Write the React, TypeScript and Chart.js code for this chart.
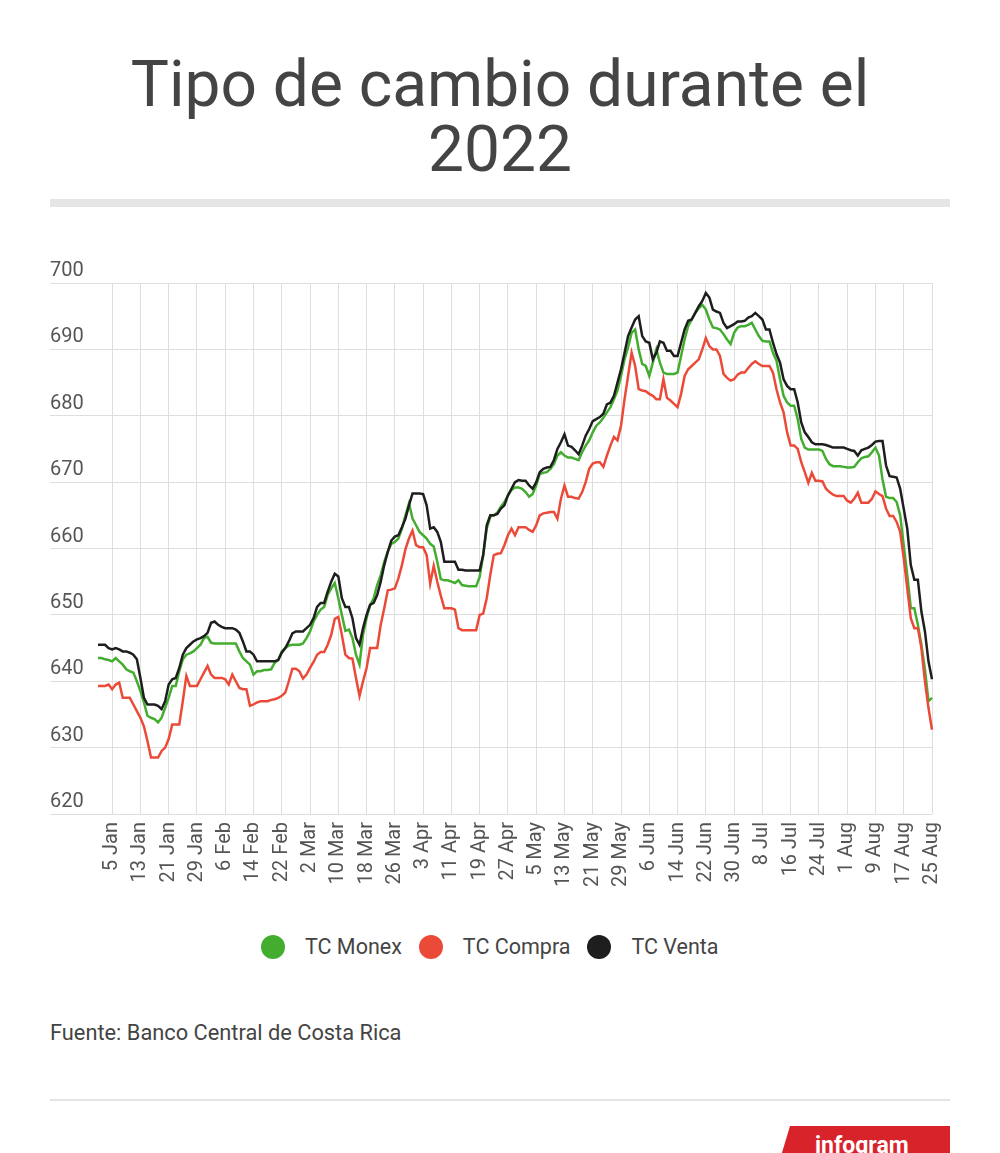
import React, { useEffect, useRef } from "react";
import { Chart, registerables } from "chart.js";

Chart.register(...registerables);

const START_DATE = "2022-01-01";
const MONTHS = ["Jan", "Feb", "Mar", "Apr", "May", "Jun", "Jul", "Aug", "Sep", "Oct", "Nov", "Dec"];

const TICK_LABELS = [
  "5 Jan", "13 Jan", "21 Jan", "29 Jan", "6 Feb", "14 Feb", "22 Feb", "2 Mar", "10 Mar", "18 Mar",
  "26 Mar", "3 Apr", "11 Apr", "19 Apr", "27 Apr", "5 May", "13 May", "21 May", "29 May", "6 Jun",
  "14 Jun", "22 Jun", "30 Jun", "8 Jul", "16 Jul", "24 Jul", "1 Aug", "9 Aug", "17 Aug", "25 Aug",
];

const Y_TICKS = [620, 630, 640, 650, 660, 670, 680, 690, 700];

// TC Monex (daily, 1 Jan – 25 Aug 2022)
const TC_MONEX = [
  643.5, 643.5, 643.3, 643.2, 643.0, 643.5, 643.0, 642.5, 641.8, 641.5,
  641.3, 640.0, 638.5, 636.8, 634.8, 634.5, 634.3, 633.8, 634.5, 636.0,
  637.5, 639.3, 639.3, 641.5, 643.3, 644.0, 644.2, 644.5, 645.0, 645.5,
  646.5, 646.7, 645.8, 645.7, 645.7, 645.7, 645.7, 645.7, 645.7, 645.7,
  644.5, 643.5, 643.0, 642.5, 641.0, 641.5, 641.5, 641.7, 641.7, 641.8,
  642.8, 643.2, 644.5, 645.0, 645.4, 645.5, 645.5, 645.5, 645.7, 646.5,
  647.5, 649.0, 650.0, 650.8, 651.2, 653.0, 654.0, 654.8, 652.5, 650.0,
  647.6, 647.8, 646.5, 644.0, 642.5, 647.0, 649.5, 651.5, 652.5, 654.5,
  656.0, 658.0, 659.5, 660.7, 661.0, 661.5, 663.0, 665.0, 666.8, 664.5,
  663.5, 662.5, 662.0, 661.5, 660.7, 660.3, 658.0, 655.4, 655.2, 655.2,
  655.0, 654.8, 655.2, 654.5, 654.4, 654.3, 654.3, 654.3, 655.7, 659.0,
  663.0, 664.8, 665.0, 665.4, 666.3, 667.0, 668.0, 668.8, 669.2, 669.2,
  669.0, 668.5, 667.8, 668.2, 669.5, 671.2, 671.4, 671.5, 672.0, 672.7,
  674.0, 674.5, 674.0, 673.7, 673.7, 673.5, 673.3, 674.5, 675.5, 676.3,
  677.5, 678.5, 679.0, 679.7, 680.5, 681.3, 682.5, 683.8, 686.0, 688.5,
  690.3, 692.5, 693.0, 690.0, 687.8, 687.5, 686.0, 688.0, 690.0, 688.0,
  686.5, 686.3, 686.3, 686.3, 686.5, 689.0, 691.5, 693.5, 694.5, 695.5,
  696.2, 696.7, 696.0, 694.5, 693.3, 693.2, 693.0, 692.3, 691.5, 690.8,
  692.5, 693.3, 693.5, 693.5, 693.7, 694.0, 693.0, 692.0, 691.3, 691.2,
  691.2, 689.5, 688.3, 685.5, 683.0, 682.0, 681.5, 681.5, 679.5, 676.5,
  675.2, 674.9, 674.9, 674.9, 674.9, 674.7, 673.5, 672.7, 672.4, 672.4,
  672.4, 672.3, 672.2, 672.2, 672.3, 673.0, 673.6, 673.8, 673.9, 674.5,
  675.2, 674.0, 670.4, 667.8, 667.6, 667.6, 667.0, 665.0, 660.5, 656.0,
  651.0, 651.0, 648.5, 645.5, 641.8, 637.0, 637.5,
];

// TC Compra
const TC_COMPRA = [
  639.3, 639.3, 639.3, 639.5, 638.8, 639.5, 639.8, 637.5, 637.5, 637.5,
  636.5, 635.5, 634.5, 633.2, 631.0, 628.5, 628.5, 628.5, 629.5, 630.0,
  631.3, 633.5, 633.5, 633.5, 637.0, 640.8, 639.3, 639.3, 639.3, 640.3,
  641.3, 642.3, 641.0, 640.5, 640.5, 640.5, 640.3, 639.5, 641.0, 640.0,
  639.0, 638.8, 638.8, 636.3, 636.5, 636.8, 637.0, 637.0, 637.0, 637.2,
  637.3, 637.5, 637.8, 638.3, 640.0, 641.9, 641.9, 641.5, 640.4, 641.0,
  642.0, 642.9, 644.0, 644.4, 644.4, 645.5, 647.0, 649.4, 649.7, 647.0,
  644.0, 643.5, 643.4, 640.5, 637.8, 640.0, 642.0, 645.0, 645.0, 645.0,
  648.5, 651.0, 653.7, 653.8, 654.0, 655.5, 657.5, 659.9, 661.5, 662.7,
  660.5, 660.2, 660.2, 659.0, 654.7, 657.4, 655.0, 652.9, 651.0, 651.0,
  651.0, 650.8, 648.0, 647.7, 647.7, 647.7, 647.7, 647.7, 650.0, 650.2,
  652.5, 656.0, 659.0, 659.2, 659.3, 660.5, 662.0, 663.0, 662.0, 663.2,
  663.2, 663.2, 662.8, 662.5, 663.5, 665.0, 665.3, 665.4, 665.5, 665.5,
  664.5, 667.5, 669.5, 667.8, 667.8, 667.6, 667.5, 668.5, 670.0, 672.0,
  672.8, 673.0, 673.0, 672.3, 674.0, 675.5, 676.8, 676.3, 678.5, 682.5,
  686.0, 689.5, 687.5, 684.0, 683.8, 683.7, 683.3, 683.0, 682.5, 682.5,
  685.5, 682.7, 682.3, 681.8, 681.3, 683.3, 686.0, 687.0, 687.5, 688.0,
  688.5, 690.0, 691.7, 690.5, 690.0, 690.0, 689.0, 686.3, 685.7, 685.3,
  685.5, 686.2, 686.5, 686.5, 687.2, 687.8, 688.2, 687.8, 687.5, 687.5,
  687.5, 686.5, 684.0, 682.0, 680.5, 677.5, 675.5, 675.5, 675.0, 673.0,
  671.5, 669.9, 671.4, 670.2, 670.2, 670.1, 669.0, 668.5, 668.1, 667.9,
  667.9, 667.9, 667.2, 666.9, 667.5, 668.4, 666.9, 666.9, 666.9, 667.5,
  668.6, 668.2, 667.9, 666.0, 664.9, 664.9, 664.0, 662.5, 658.5, 654.0,
  649.5, 648.0, 648.0, 645.0, 640.0, 636.0, 632.7,
];

// TC Venta
const TC_VENTA = [
  645.5, 645.5, 645.5, 645.0, 644.8, 645.0, 644.8, 644.5, 644.5, 644.3,
  644.0, 643.3, 640.5, 637.5, 636.5, 636.5, 636.5, 636.3, 635.8, 637.0,
  639.5, 640.3, 640.5, 642.0, 644.0, 645.0, 645.5, 646.0, 646.3, 646.5,
  646.8, 647.3, 648.8, 649.0, 648.5, 648.2, 648.0, 648.0, 648.0, 647.8,
  647.3, 646.0, 644.5, 644.5, 644.0, 643.0, 643.0, 643.0, 643.0, 643.0,
  643.0, 643.2, 644.3, 645.0, 646.0, 647.2, 647.5, 647.5, 647.5, 648.0,
  648.5, 649.5, 651.2, 651.8, 651.8, 653.5, 655.0, 656.2, 655.8, 652.5,
  651.2, 651.2, 649.5, 646.5, 645.5, 648.0, 650.0, 651.5, 651.8, 653.0,
  655.0, 657.5, 659.5, 661.2, 661.8, 662.0, 663.2, 664.5, 666.5, 668.3,
  668.3, 668.3, 668.2, 666.5, 663.0, 663.2, 662.5, 661.0, 658.0, 658.0,
  658.0, 658.0, 656.8, 656.8, 656.7, 656.7, 656.7, 656.7, 656.7, 659.0,
  663.5, 665.0, 665.0, 665.2, 666.0, 666.5, 668.0, 669.0, 670.0, 670.3,
  670.2, 670.2, 669.5, 669.0, 670.0, 671.5, 672.0, 672.2, 672.3, 673.3,
  675.0, 676.0, 677.2, 675.5, 675.3, 674.8, 674.2, 675.5, 677.0, 678.0,
  679.2, 679.5, 679.8, 680.3, 681.7, 682.0, 683.0, 685.0, 687.0, 689.5,
  692.0, 693.3, 694.5, 695.0, 692.0, 691.2, 691.0, 688.5, 689.5, 691.2,
  691.0, 689.8, 689.8, 689.0, 689.0, 691.0, 693.0, 694.3, 694.5, 695.5,
  696.5, 697.3, 698.5, 697.8, 696.0, 695.7, 695.5, 694.0, 693.2, 693.5,
  693.8, 694.2, 694.2, 694.3, 694.8, 695.0, 695.5, 695.0, 694.5, 693.0,
  693.0, 691.0, 689.3, 688.0, 685.5, 684.5, 684.0, 684.0, 682.0, 679.0,
  677.5, 676.8, 676.0, 675.7, 675.7, 675.7, 675.6, 675.4, 675.2, 675.2,
  675.2, 675.2, 675.0, 674.8, 674.7, 674.0, 674.8, 675.0, 675.2, 675.6,
  676.1, 676.2, 676.2, 672.5, 670.9, 670.8, 670.7, 669.0, 666.0, 663.0,
  657.5, 655.3, 655.3, 650.5, 647.5, 643.0, 640.3,
];

const SERIES_NAMES = ["TC Monex", "TC Compra", "TC Venta"];
const SERIES_COLORS = ["#43ad2f", "#ec4a38", "#1e1e1e"];

function buildDayLabels(n: number): string[] {
  const start = new Date(START_DATE + "T00:00:00Z");
  const out: string[] = [];
  for (let i = 0; i < n; i++) {
    const d = new Date(start.getTime() + i * 86400000);
    out.push(`${d.getUTCDate()} ${MONTHS[d.getUTCMonth()]}`);
  }
  return out;
}

const DAY_LABELS = buildDayLabels(TC_MONEX.length);
const TICK_SET = new Set(TICK_LABELS);

const FONT = "Roboto, 'Noto Sans', sans-serif";
const GRID = "#dedede";

export default function App() {
  const ref = useRef<HTMLCanvasElement | null>(null);

  useEffect(() => {
    if (!ref.current) return;
    const seriesData = [TC_MONEX, TC_COMPRA, TC_VENTA];
    const orders = [2, 1, 0];
    const chart = new Chart(ref.current, {
      type: "line",
      data: {
        labels: DAY_LABELS,
        datasets: SERIES_NAMES.map((name, i) => ({
          label: name,
          data: seriesData[i],
          borderColor: SERIES_COLORS[i],
          backgroundColor: SERIES_COLORS[i],
          borderWidth: 2.5,
          pointRadius: 0,
          pointHoverRadius: 0,
          tension: 0,
          fill: false,
          order: orders[i],
        })),
      },
      options: {
        responsive: false,
        animation: false,
        layout: { padding: { left: 50, right: 68, top: 53, bottom: 10 } },
        plugins: {
          legend: { display: false },
          tooltip: { enabled: false },
          title: { display: false },
        },
        scales: {
          x: {
            type: "category",
            grid: { color: GRID, lineWidth: 1, drawTicks: false },
            border: { display: false },
            afterFit: (scale: any) => {
              scale.height = 80;
            },
            ticks: {
              autoSkip: false,
              maxRotation: 90,
              minRotation: 90,
              padding: 8,
              color: "#555",
              font: { family: FONT, size: 20 },
              callback: (_v: any, index: number) =>
                TICK_SET.has(DAY_LABELS[index]) ? DAY_LABELS[index] : null,
            },
          },
          y: {
            min: Y_TICKS[0],
            max: Y_TICKS[Y_TICKS.length - 1],
            afterBuildTicks: (scale: any) => {
              scale.ticks = Y_TICKS.map((v) => ({ value: v }));
            },
            afterFit: (scale: any) => {
              scale.width = 48;
            },
            grid: { color: GRID, lineWidth: 1, tickLength: 48, drawTicks: true },
            border: { display: false },
            ticks: {
              crossAlign: "far",
              labelOffset: -12,
              padding: 0,
              color: "#555",
              font: { family: FONT, size: 20 },
            },
          },
        },
      },
    } as any);
    return () => chart.destroy();
  }, []);

  const textColor = "#444";

  return (
    <div
      style={{
        position: "absolute",
        left: 0,
        top: 0,
        width: 1000,
        height: 1153,
        overflow: "hidden",
        background: "#fff",
        fontFamily: FONT,
      }}
    >
      <div
        style={{
          position: "absolute",
          left: 0,
          top: 52,
          width: 1000,
          textAlign: "center",
          fontSize: 64,
          lineHeight: "65px",
          color: textColor,
          fontWeight: 400,
        }}
      >
        Tipo de cambio durante el
        <br />
        2022
      </div>
      <div
        style={{
          position: "absolute",
          left: 50,
          top: 199,
          width: 900,
          height: 8,
          background: "#e6e6e6",
        }}
      />
      <canvas
        ref={ref}
        width={1000}
        height={674}
        style={{ position: "absolute", left: 0, top: 230, width: 1000, height: 674 }}
      />
      <div
        style={{
          position: "absolute",
          left: 261,
          top: 935,
          height: 24,
          display: "flex",
          alignItems: "center",
          fontSize: 21.5,
          color: textColor,
        }}
      >
        {SERIES_NAMES.map((name, i) => (
          <div key={name} style={{ display: "flex", alignItems: "center", marginRight: 17 }}>
            <span
              style={{
                display: "inline-block",
                width: 24,
                height: 24,
                borderRadius: 12,
                background: SERIES_COLORS[i],
                marginRight: 20,
              }}
            />
            <span style={{ lineHeight: "24px", whiteSpace: "nowrap" }}>{name}</span>
          </div>
        ))}
      </div>
      <div
        style={{
          position: "absolute",
          left: 50,
          top: 1021,
          fontSize: 21.8,
          lineHeight: "24px",
          color: textColor,
          whiteSpace: "nowrap",
        }}
      >
        Fuente: Banco Central de Costa Rica
      </div>
      <div
        style={{
          position: "absolute",
          left: 50,
          top: 1099,
          width: 900,
          height: 2,
          background: "#e4e4e4",
        }}
      />
      <div
        style={{
          position: "absolute",
          left: 778,
          top: 1126,
          width: 172,
          height: 40,
          background: "#d9232b",
          clipPath: "polygon(12px 0, 100% 0, 100% 100%, 0 100%)",
          color: "#fff",
          fontWeight: 700,
          fontSize: 23,
          lineHeight: "40px",
          paddingLeft: 37,
          boxSizing: "border-box",
          whiteSpace: "nowrap",
        }}
      >
        infogram
      </div>
    </div>
  );
}
